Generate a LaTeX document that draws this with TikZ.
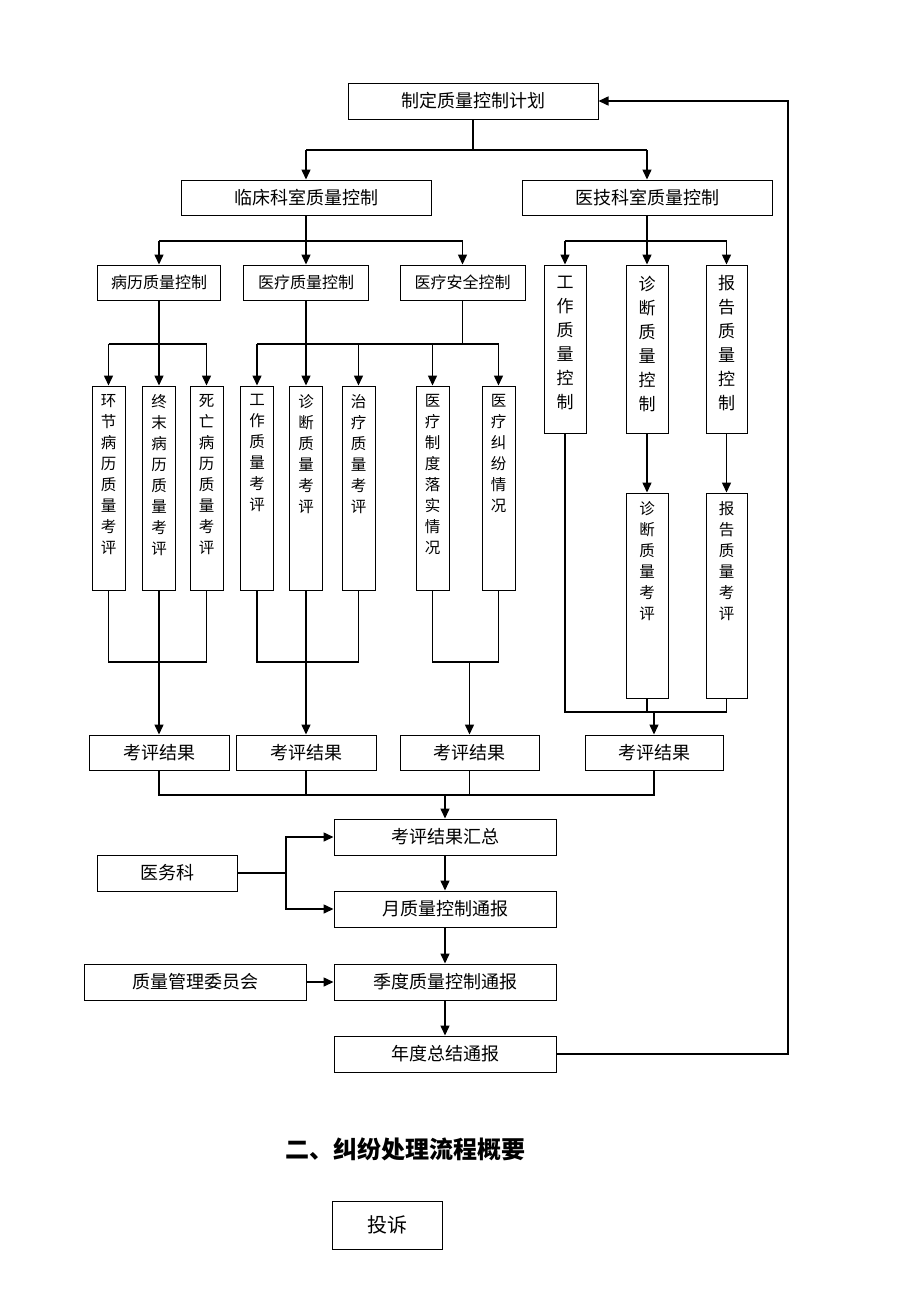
\documentclass[tikz,border=0pt]{standalone}
\usepackage{fontspec}
\setmainfont{Noto Sans CJK SC}
\usetikzlibrary{arrows.meta,positioning}
\tikzset{
  box/.style={draw, line width=1pt, inner sep=0pt, font=\fontsize{18}{20}\selectfont},
  sbox/.style={box, font=\fontsize{16}{18}\selectfont},
  vbox/.style={draw, line width=1pt, inner sep=0pt},
  vtext/.style={align=center, inner sep=0pt, anchor=north, font=\fontsize{15.5}{21}\selectfont},
  vtextb/.style={vtext, font=\fontsize{17}{24}\selectfont},
  ln/.style={line width=1.5pt},
  arr/.style={ln, -{Triangle[length=10pt,width=9pt]}},
}
\begin{document}
\begin{tikzpicture}[x=1pt,y=-1pt]
\fill[white] (0,0) rectangle (920,1302);
\useasboundingbox (0,0) rectangle (920,1302);

% level 0
\node[box, minimum width=250, minimum height=36] (top) at (473,101) {制定质量控制计划};
% level 1
\node[box, minimum width=250, minimum height=35] (lc) at (306,197.5) {临床科室质量控制};
\node[box, minimum width=250, minimum height=35] (yj) at (647,197.5) {医技科室质量控制};
% level 2
\node[sbox, minimum width=123, minimum height=35] (bl) at (159,282.5) {病历质量控制};
\node[sbox, minimum width=125, minimum height=35] (ylzl) at (306,282.5) {医疗质量控制};
\node[sbox, minimum width=125, minimum height=35] (ylaq) at (462.5,282.5) {医疗安全控制};
\node[vbox, minimum width=42, minimum height=168] (gz) at (565,349) {};
\node[vbox, minimum width=42, minimum height=168] (zd) at (647,349) {};
\node[vbox, minimum width=41, minimum height=168] (bg) at (726.5,349) {};
\node[vtextb, below=11pt of gz.north] (gzt) {工\\作\\质\\量\\控\\制};
\node[vtextb, below=11pt of zd.north] (zdt) {诊\\断\\质\\量\\控\\制};
\node[vtextb, below=11pt of bg.north] (bgt) {报\\告\\质\\量\\控\\制};

% level 3 vertical boxes
\foreach \n/\x in {v1/108.5, v2/159, v3/206.5, v4/257, v5/306, v6/358.5, v7/432.5, v8/498.5}
  \node[vbox, minimum width=33, minimum height=204] (\n) at (\x,488) {};
\node[vtext, below=9pt of v1.north] (v1t) {环\\节\\病\\历\\质\\量\\考\\评};
\node[vtext, below=9pt of v2.north] (v2t) {终\\末\\病\\历\\质\\量\\考\\评};
\node[vtext, below=9pt of v3.north] (v3t) {死\\亡\\病\\历\\质\\量\\考\\评};
\node[vtext, below=9pt of v4.north] (v4t) {工\\作\\质\\量\\考\\评};
\node[vtext, below=9pt of v5.north] (v5t) {诊\\断\\质\\量\\考\\评};
\node[vtext, below=9pt of v6.north] (v6t) {治\\疗\\质\\量\\考\\评};
\node[vtext, below=9pt of v7.north] (v7t) {医\\疗\\制\\度\\落\\实\\情\\况};
\node[vtext, below=9pt of v8.north] (v8t) {医\\疗\\纠\\纷\\情\\况};

\node[vbox, minimum width=42, minimum height=205] (zdkp) at (647,595.5) {};
\node[vbox, minimum width=41, minimum height=205] (bgkp) at (726.5,595.5) {};
\node[vtext, below=9pt of zdkp.north] (zdkpt) {诊\\断\\质\\量\\考\\评};
\node[vtext, below=9pt of bgkp.north] (bgkpt) {报\\告\\质\\量\\考\\评};

% results
\node[box, minimum width=140, minimum height=35] (kp1) at (159,752.5) {考评结果};
\node[box, minimum width=140, minimum height=35] (kp2) at (306,752.5) {考评结果};
\node[box, minimum width=139, minimum height=35] (kp3) at (469.5,752.5) {考评结果};
\node[box, minimum width=138, minimum height=35] (kp4) at (654,752.5) {考评结果};

\node[box, minimum width=222, minimum height=36] (hz) at (445,837) {考评结果汇总};
\node[box, minimum width=140, minimum height=36] (yw) at (167,873) {医务科};
\node[box, minimum width=222, minimum height=36] (month) at (445,909) {月质量控制通报};
\node[box, minimum width=222, minimum height=36] (quarter) at (445,982) {季度质量控制通报};
\node[box, minimum width=222, minimum height=36] (zlgl) at (195,982) {质量管理委员会};
\node[box, minimum width=222, minimum height=36] (year) at (445,1054) {年度总结通报};

\node[font=\fontsize{24}{26}\selectfont\bfseries] (title) at (405,1149) {二、纠纷处理流程概要};
\node[box, minimum width=110, minimum height=48, font=\fontsize{20}{22}\selectfont] (ts) at (387,1225) {投诉};

% connectors: top -> level 1
\coordinate (h0) at (473,150);
\draw[ln] (top.south) -- (h0);
\draw[ln] (lc.north |- h0) -- (yj.north |- h0);
\draw[arr] (lc.north |- h0) -- (lc.north);
\draw[arr] (yj.north |- h0) -- (yj.north);

% lc -> level 2
\coordinate (h1) at (306,241);
\draw[ln] (lc.south) -- (h1);
\draw[ln] (bl.north |- h1) -- (ylaq.north |- h1);
\foreach \n in {bl,ylzl,ylaq} \draw[arr] (\n.north |- h1) -- (\n.north);

% yj -> level 2
\coordinate (h1b) at (647,241);
\draw[ln] (yj.south) -- (h1b);
\draw[ln] (gz.north |- h1b) -- (bg.north |- h1b);
\foreach \n in {gz,zd,bg} \draw[arr] (\n.north |- h1b) -- (\n.north);

% bl -> v1..v3
\coordinate (h2a) at (159,344);
\draw[ln] (bl.south) -- (h2a);
\draw[ln] (v1.north |- h2a) -- (v3.north |- h2a);
\foreach \n in {v1,v2,v3} \draw[arr] (\n.north |- h2a) -- (\n.north);

% ylzl, ylaq -> v4..v8
\coordinate (h2b) at (306,344);
\coordinate (h2c) at (462.5,344);
\draw[ln] (ylzl.south) -- (h2b);
\draw[ln] (ylaq.south) -- (h2c);
\draw[ln] (v4.north |- h2b) -- (v8.north |- h2b);
\foreach \n in {v4,v5,v6,v7,v8} \draw[arr] (\n.north |- h2b) -- (\n.north);

% zd -> zdkp, bg -> bgkp
\draw[arr] (zd.south) -- (zdkp.north);
\draw[arr] (bg.south) -- (bgkp.north);

% merges to results
\coordinate (m1) at (159,662);
\draw[ln] (v1.south) -- (v1.south |- m1) -- (v3.south |- m1) -- (v3.south);
\draw[arr] (v2.south) -- (kp1.north);

\coordinate (m2) at (306,662);
\draw[ln] (v4.south) -- (v4.south |- m2) -- (v6.south |- m2) -- (v6.south);
\draw[arr] (v5.south) -- (kp2.north);

\coordinate (m3) at (469.5,662);
\draw[ln] (v7.south) -- (v7.south |- m3) -- (v8.south |- m3) -- (v8.south);
\draw[arr] (m3) -- (kp3.north);

\coordinate (m4) at (654,712);
\draw[ln] (gz.south) -- (gz.south |- m4) -- (bgkp.south |- m4) -- (bgkp.south);
\draw[ln] (zdkp.south) -- (zdkp.south |- m4);
\draw[arr] (m4) -- (kp4.north);

% results -> summary
\coordinate (m5) at (445,795);
\draw[ln] (kp1.south) -- (kp1.south |- m5) -- (kp4.south |- m5) -- (kp4.south);
\draw[ln] (kp2.south) -- (kp2.south |- m5);
\draw[ln] (kp3.south) -- (kp3.south |- m5);
\draw[arr] (m5) -- (hz.north);

% 医务科
\coordinate (yj1) at (286,873);
\draw[ln] (yw.east) -- (yj1);
\draw[arr] (yj1) |- (hz.west);
\draw[arr] (yj1) |- (month.west);

% chain
\draw[arr] (hz.south) -- (month.north);
\draw[arr] (month.south) -- (quarter.north);
\draw[arr] (quarter.south) -- (year.north);
\draw[arr] (zlgl.east) -- (quarter.west);

% feedback loop
\coordinate (fb) at (788,1054);
\draw[arr] (year.east) -- (fb) |- (top.east);
\end{tikzpicture}
\end{document}
